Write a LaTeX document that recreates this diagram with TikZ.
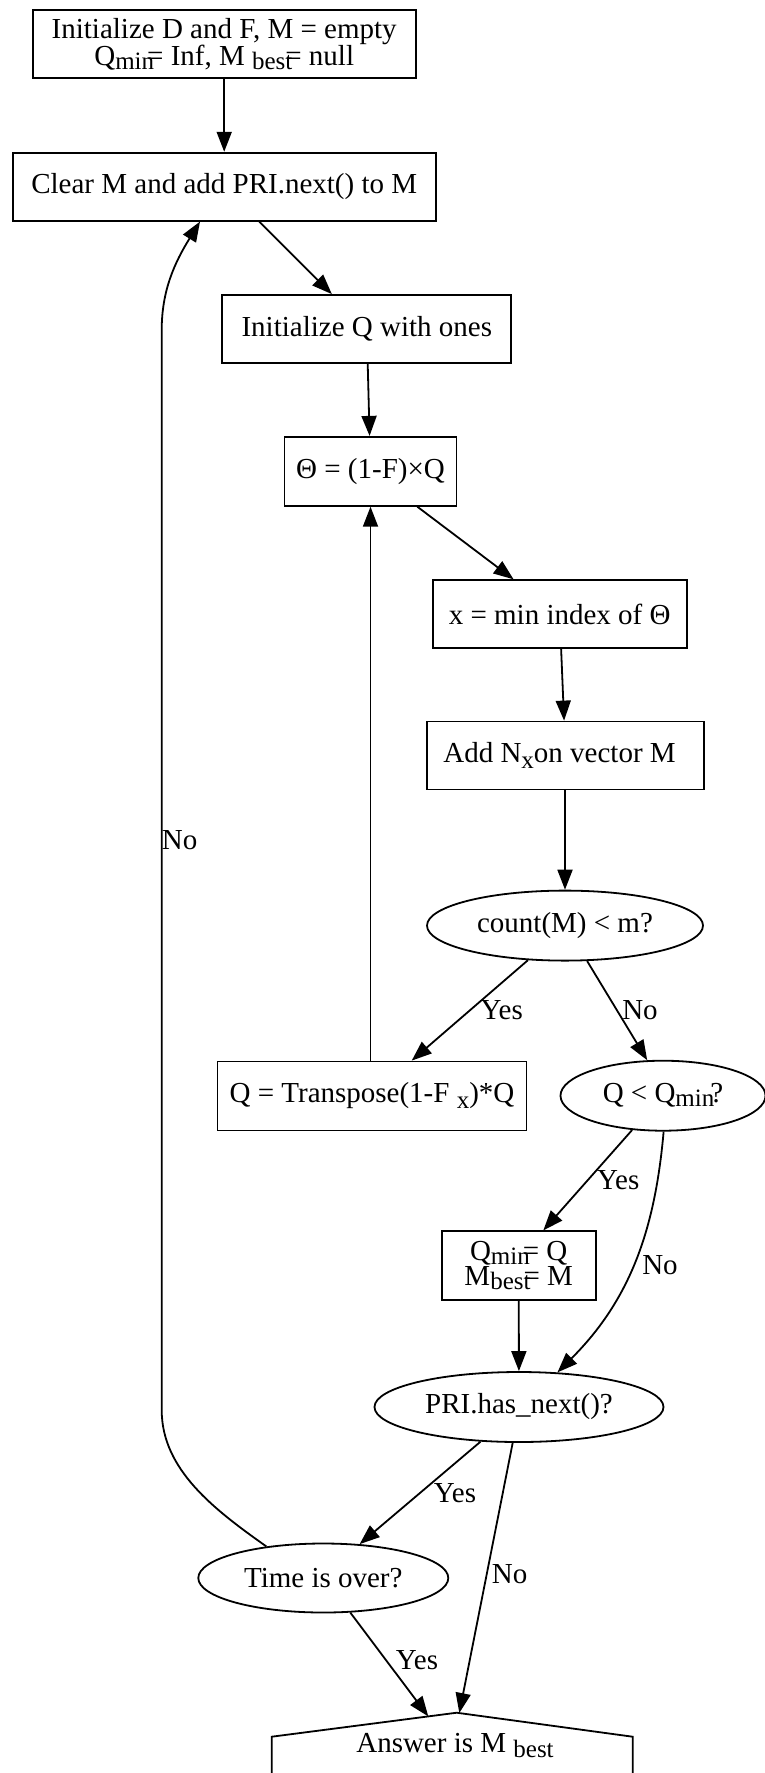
\documentclass[tikz,border=0pt]{standalone}
\usepackage{fontspec}
\setmainfont{Liberation Serif}
\usetikzlibrary{arrows.meta,shapes.geometric}
% lowered, slightly smaller text used for the subscripts
\newcommand\lowtxt[2][4pt]{\raisebox{-#1}{\fontsize{25}{25}\selectfont #2}}

\begin{document}
\begin{tikzpicture}[x=1pt,y=-1pt,
  every node/.style={font=\fontsize{29}{26.7}\selectfont},
  box/.style={draw, line width=1.8pt, rectangle, inner sep=0pt, align=center},
  decision/.style={draw, line width=1.8pt, ellipse, inner sep=0pt, align=center},
  flow/.style={line width=1.8pt, -{Triangle[length=20pt,width=15pt]}},
  lbl/.style={inner sep=0pt}
]
\useasboundingbox (0,0) rectangle (764,1773);

% process steps and decisions
\node[box, minimum width=383, minimum height=68] (init) at (224.2,44.2)
  {Initialize D and F, M = empty\\Q\lowtxt{min}\kern-7pt= Inf, M \lowtxt{best}\kern-7pt= null};
\node[box, minimum width=423, minimum height=68] (clear) at (224.2,186.7)
  {Clear M and add PRI.next() to M};
\node[box, minimum width=289, minimum height=68] (initq) at (366.8,329)
  {Initialize Q with ones};
\node[box, minimum width=172, minimum height=69] (theta) at (370.5,471.3)
  {Θ = (1-F)×Q};
\node[box, minimum width=254, minimum height=68] (xmin) at (559.7,614.2)
  {x = min index of Θ};
\node[box, minimum width=277, minimum height=68] (addn) at (565.5,755.5)
  {Add N\lowtxt[6pt]{x}on vector M\hspace{12pt}};
\node[decision, minimum width=276, minimum height=70] (count) at (565,925.6)
  {count(M) < m?};
\node[box, minimum width=309, minimum height=69] (qtr) at (372,1096)
  {Q = Transpose(1-F \lowtxt[6pt]{x})*Q};
\node[decision, minimum width=205, minimum height=70] (qlt) at (663,1095.7)
  {Q < Q\lowtxt{min}\kern-4pt?};
\node[box, minimum width=154, minimum height=69, font=\fontsize{29}{23.3}\selectfont] (qmb) at (518.7,1265.8)
  {Q\lowtxt{min}\kern-7pt= Q\\M\lowtxt{best}\kern-7pt= M};
\node[decision, minimum width=289, minimum height=70] (pri) at (519,1407)
  {PRI.has\_next()?};
\node[decision, minimum width=250, minimum height=69] (time) at (323.3,1578)
  {Time is over?};

% final step, drawn as a house shape running past the lower edge
\coordinate (ansL) at (271.7,1736.7);
\coordinate (ansTop) at (456.7,1712.7);
\coordinate (ansR) at (632.7,1736.7);
\coordinate (ansInL) at (428.3,1716.4);
\coordinate (ansInR) at (459.3,1713);
\draw[line width=1.8pt] (271.7,1800) -- (ansL) -- (ansTop) -- (ansR) -- (632.7,1800);
\node (ans) at (455,1745) {Answer is M \lowtxt[5pt]{best}};

% connectors
\draw[flow] (init) -- (clear);
\draw[flow] (clear) -- (initq);
\draw[flow] (initq) -- (theta);
\draw[flow] (theta) -- (xmin);
\draw[flow] (xmin) -- (addn);
\draw[flow] (addn.south -| count.north) -- (count);
\draw[flow] (count.223.7) -- ([xshift=39.7]qtr.north);
\draw[flow] (count.-58) -- (qlt.114.5);
\draw[flow] (theta.south |- qtr.north) -- (theta.south);
\draw[flow] (qlt.228.2) -- ([xshift=24.6]qmb.north);
\draw[flow] (qlt.-89.5) .. controls (655,1230) and (630,1300) .. (pri.42);
\draw[flow] (qmb) -- (pri);
\draw[flow] (pri.222.5) -- (time.43.5);
\draw[flow] (pri.260) -- (ansInR);
\draw[flow] (time.-52.9) -- (ansInL);
\draw[flow] (time.151) .. controls (215,1510) and (161.7,1470) .. (161.7,1410)
  -- (161.7,330) .. controls (161.7,290) and (175,262) .. ([xshift=-24.2]clear.south);

% connector labels
\node[lbl] (lyes1) at (501.7,1010) {Yes};
\node[lbl] (lno1) at (640,1010) {No};
\node[lbl] (lyes2) at (618.3,1180) {Yes};
\node[lbl] (lno2) at (660,1265) {No};
\node[lbl] (lyes3) at (455,1492.7) {Yes};
\node[lbl] (lno3) at (509.7,1574) {No};
\node[lbl] (lyes4) at (417,1660) {Yes};
\node[lbl] (lno4) at (179.7,840) {No};
\end{tikzpicture}
\end{document}
